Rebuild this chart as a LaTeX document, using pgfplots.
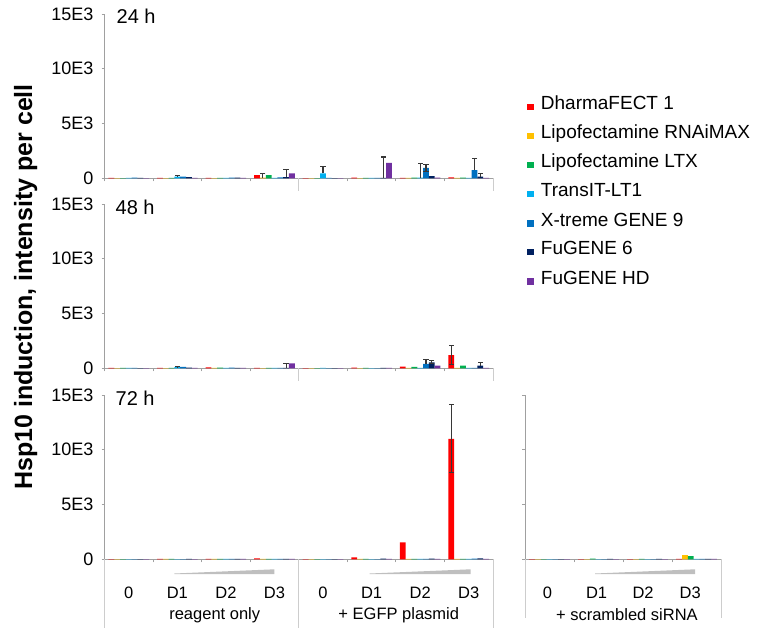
\documentclass[border=0pt]{standalone}
\usepackage{pgfplots}
\pgfplotsset{compat=1.18}
\usepackage{pgfplotstable}
\usepackage{fontspec}
\setmainfont{Liberation Sans}
\definecolor{cR}{RGB}{255,0,0}
\definecolor{cY}{RGB}{255,192,0}
\definecolor{cG}{RGB}{0,176,80}
\definecolor{cT}{RGB}{0,176,240}
\definecolor{cX}{RGB}{0,112,192}
\definecolor{cF}{RGB}{0,32,96}
\definecolor{cH}{RGB}{112,48,160}
\definecolor{axgray}{RGB}{160,160,160}
\definecolor{sepgray}{RGB}{205,205,205}
\definecolor{wedge}{RGB}{191,191,191}
\definecolor{errc}{RGB}{55,55,55}
\newcommand\ytfont{\fontsize{18}{21}\selectfont}
\newcommand\lbfont{\fontsize{16.5}{19}\selectfont}
\newcommand\titlefont{\fontsize{20}{24}\selectfont}
\newcommand\lgfont{\fontsize{19}{22}\selectfont}

% 24 h
\pgfplotstableread{
x R Y G T X F H
0 30 20 20 30 60 30 20
1 40 20 30 150 150 100 40
2 30 20 30 40 60 50 30
3 300 50 300 40 80 100 450
4 20 20 20 450 30 20 20
5 60 20 30 30 30 40 1400
6 40 40 50 50 950 200 60
7 80 30 60 30 750 150 40
}\dA
% 48 h
\pgfplotstableread{
x R Y G T X F H
0 40 20 30 50 30 20 20
1 30 20 30 100 120 60 30
2 80 40 60 40 60 50 30
3 50 20 50 40 50 50 450
4 20 20 20 40 20 20 20
5 60 20 30 20 20 30 30
6 150 30 120 30 400 550 250
7 1200 30 250 30 40 250 40
}\dB
% 72 h
\pgfplotstableread{
x R Y G T X F H
0 20 10 10 10 10 10 10
1 40 30 30 20 20 30 20
2 40 30 30 40 40 50 30
3 80 30 40 30 30 40 30
4 20 10 10 10 10 10 10
5 180 30 30 20 20 60 30
6 1550 30 40 30 40 60 40
7 11000 40 40 40 60 80 50
}\dC
% 72 h, scrambled siRNA
\pgfplotstableread{
x R Y G T X F H
0 10 10 10 10 10 10 10
1 20 20 60 20 20 40 20
2 20 20 50 20 20 30 20
3 30 370 280 30 40 40 30
}\dD

\pgfplotsset{
  sR/.style={ybar, fill=cR, draw=none, bar shift=-17.4pt},
  sY/.style={ybar, fill=cY, draw=none, bar shift=-11.6pt},
  sG/.style={ybar, fill=cG, draw=none, bar shift=-5.8pt},
  sT/.style={ybar, fill=cT, draw=none, bar shift=0pt},
  sX/.style={ybar, fill=cX, draw=none, bar shift=5.8pt},
  sF/.style={ybar, fill=cF, draw=none, bar shift=11.6pt},
  sH/.style={ybar, fill=cH, draw=none, bar shift=17.4pt},
  % error bars: line from low to high end, cap(s) as '-' marks
  ebp/.style={forget plot, sharp plot, draw=errc, line width=1.1pt, mark=-, mark size=2.6pt,
    mark options={solid, draw=errc, line width=1.1pt}, mark indices={2}},
  ebb/.style={ebp, mark indices={1,2}},
  panel/.style={
    scale only axis, height=164.3pt, anchor=south west,
    ymin=0, ymax=15000, enlargelimits=false,
    axis lines=left, axis line style={-, draw=axgray, line width=0.8pt},
    ybar=0pt, bar width=5.8pt,
    tick align=outside, major tick length=3pt,
    tick style={draw=axgray, line width=0.8pt},
    ytick={0,5000,10000,15000},
    yticklabels={0,5E3,10E3,15E3},
    scaled y ticks=false,
    yticklabel style={font=\ytfont, inner sep=0pt, anchor=east},
    yticklabel shift=8pt,
    xticklabels={},
    clip mode=individual,
  },
  wide/.style={width=388.5pt, xmin=-0.5, xmax=7.5, xtick={-0.5,0.5,...,7.5}},
}
\newcommand\bars[1]{%
  \addplot[sR] table[x=x,y=R]{#1};
  \addplot[sY] table[x=x,y=Y]{#1};
  \addplot[sG] table[x=x,y=G]{#1};
  \addplot[sT] table[x=x,y=T]{#1};
  \addplot[sX] table[x=x,y=X]{#1};
  \addplot[sF] table[x=x,y=F]{#1};
  \addplot[sH] table[x=x,y=H]{#1};
}
\newcommand\sep[2]{\draw[sepgray, line width=0.8pt] (axis cs:#1,0) -- ([yshift=-#2]axis cs:#1,0);}

\begin{document}
\begin{tikzpicture}[x=1pt,y=1pt]
\useasboundingbox (0,0) rectangle (762,637);

% ---------------- 24 h
\begin{axis}[panel, wide, at={(104.5pt,458.7pt)},
  legend style={at={(1.0868,0.5009)}, anchor=north west, draw=none, fill=none,
    inner sep=0pt, outer sep=0pt, row sep=11pt, font=\lgfont,
    nodes={inner sep=0pt, text height=14pt, text depth=4pt, anchor=base west},
    /tikz/every odd column/.append style={column sep=7.4pt}},
  legend cell align=left,
  legend image code/.code={\fill[#1] (0pt,-0.5pt) rectangle (6.8pt,6.3pt);},
]
\bars{\dA}
\addplot[ebp, xshift=0pt] coordinates {(1,150) (1,220)};
\addplot[ebp, xshift=-11.6pt] coordinates {(3,50) (3,400)};
\addplot[ebp, xshift=11.6pt] coordinates {(3,100) (3,800)};
\addplot[ebp, xshift=0pt] coordinates {(4,450) (4,1050)};
\addplot[ebp, xshift=11.6pt] coordinates {(5,40) (5,1940)};
\addplot[ebp, xshift=0pt] coordinates {(6,50) (6,1350)};
\addplot[ebb, xshift=5.8pt] coordinates {(6,650) (6,1250)};
\addplot[ebp, xshift=5.8pt] coordinates {(7,750) (7,1800)};
\addplot[ebp, xshift=11.6pt] coordinates {(7,150) (7,400)};
\legend{DharmaFECT 1, Lipofectamine RNAiMAX, Lipofectamine LTX, TransIT-LT1, X-treme GENE 9, FuGENE 6, FuGENE HD}
\sep{3.5}{13pt}
\sep{7.5}{13pt}
\end{axis}

% ---------------- 48 h
\begin{axis}[panel, wide, at={(104.5pt,268.7pt)}]
\bars{\dB}
\addplot[ebp, xshift=0pt] coordinates {(1,100) (1,160)};
\addplot[ebp, xshift=11.6pt] coordinates {(3,50) (3,450)};
\addplot[ebp, xshift=5.8pt] coordinates {(6,400) (6,800)};
\addplot[ebb, xshift=11.6pt] coordinates {(6,400) (6,700)};
\addplot[ebb, xshift=-17.4pt] coordinates {(7,350) (7,2050)};
\addplot[ebp, xshift=11.6pt] coordinates {(7,250) (7,550)};
\sep{3.5}{13pt}
\sep{7.5}{13pt}
\end{axis}

% ---------------- 72 h
\begin{axis}[panel, wide, at={(104.5pt,77.7pt)}]
\bars{\dC}
\addplot[ebb, xshift=-17.4pt] coordinates {(7,7900) (7,14100)};
\sep{-0.5}{69pt}
\sep{3.5}{69pt}
\sep{7.5}{69pt}
\fill[wedge] ([yshift=-14.2pt]axis cs:0.94,0) -- ([yshift=-14.7pt]axis cs:0.94,0) -- ([yshift=-14.7pt]axis cs:3.0,0) -- ([yshift=-10pt]axis cs:3.0,0) -- cycle;
\fill[wedge] ([yshift=-14.2pt]axis cs:4.96,0) -- ([yshift=-14.7pt]axis cs:4.96,0) -- ([yshift=-14.7pt]axis cs:7.04,0) -- ([yshift=-10pt]axis cs:7.04,0) -- cycle;
\node[font=\lbfont, inner sep=0pt] at ([yshift=-33.7pt]axis cs:0,0) {0};
\node[font=\lbfont, inner sep=0pt] at ([yshift=-33.7pt]axis cs:1,0) {D1};
\node[font=\lbfont, inner sep=0pt] at ([yshift=-33.7pt]axis cs:2,0) {D2};
\node[font=\lbfont, inner sep=0pt] at ([yshift=-33.7pt]axis cs:3,0) {D3};
\node[font=\lbfont, inner sep=0pt] at ([yshift=-33.7pt]axis cs:4,0) {0};
\node[font=\lbfont, inner sep=0pt] at ([yshift=-33.7pt]axis cs:5,0) {D1};
\node[font=\lbfont, inner sep=0pt] at ([yshift=-33.7pt]axis cs:6,0) {D2};
\node[font=\lbfont, inner sep=0pt] at ([yshift=-33.7pt]axis cs:7,0) {D3};
\node[font=\lbfont, inner sep=0pt] at ([yshift=-55.7pt]axis cs:1.77,0) {reagent only};
\node[font=\lbfont, inner sep=0pt] at ([yshift=-55.7pt]axis cs:5.56,0) {+ EGFP plasmid};
\end{axis}

% ---------------- 72 h, scrambled siRNA
\begin{axis}[panel, at={(525pt,77.7pt)}, width=196pt, xmin=-0.5, xmax=3.5,
  xtick={-0.5,0.5,...,3.5}, yticklabels={}]
\bars{\dD}
\sep{-0.5}{59pt}
\sep{3.5}{59pt}
\fill[wedge] ([yshift=-14.2pt]axis cs:0.93,0) -- ([yshift=-14.7pt]axis cs:0.93,0) -- ([yshift=-14.7pt]axis cs:2.97,0) -- ([yshift=-10pt]axis cs:2.97,0) -- cycle;
\node[font=\lbfont, inner sep=0pt] at ([yshift=-33.7pt]axis cs:-0.04,0) {0};
\node[font=\lbfont, inner sep=0pt] at ([yshift=-33.7pt]axis cs:0.96,0) {D1};
\node[font=\lbfont, inner sep=0pt] at ([yshift=-33.7pt]axis cs:1.91,0) {D2};
\node[font=\lbfont, inner sep=0pt] at ([yshift=-33.7pt]axis cs:2.87,0) {D3};
\node[font=\lbfont, inner sep=0pt] at ([yshift=-55.7pt]axis cs:1.58,0) {+ scrambled siRNA};
\end{axis}

% titles
\node[font=\titlefont, inner sep=0pt, anchor=west] at (116.5,620.7) {24 h};
\node[font=\titlefont, inner sep=0pt, anchor=west] at (115.5,430) {48 h};
\node[font=\titlefont, inner sep=0pt, anchor=west] at (115.5,238.3) {72 h};
\node[font=\bfseries\fontsize{25}{30}\selectfont, rotate=90, anchor=base, inner sep=0pt] at (32,350) {Hsp10 induction, intensity per cell};
\end{tikzpicture}
\end{document}
